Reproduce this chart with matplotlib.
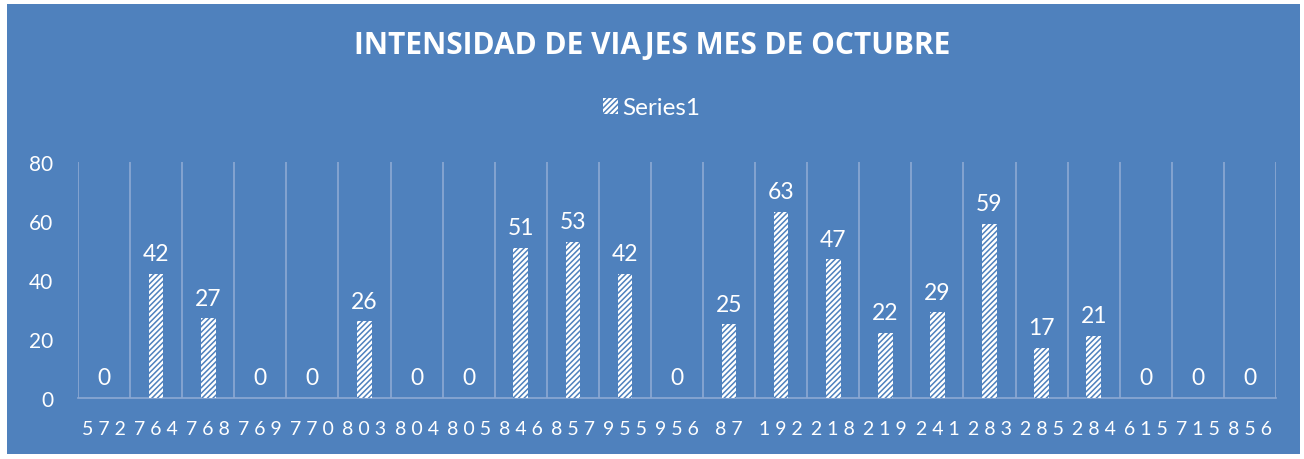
import numpy as np
from matplotlib import pyplot as plt
from matplotlib.patches import Patch

plt.rcParams['font.family'] = ['Lato', 'DejaVu Sans']
plt.rcParams['hatch.linewidth'] = 1.1

# datos del grafico
routes = ['572', '764', '768', '769', '770', '803', '804', '805', '846', '857', '955',
          '956', '87', '192', '218', '219', '241', '283', '285', '284', '615', '715', '856']
trips = [0, 42, 27, 0, 0, 26, 0, 0, 51, 53, 42, 0, 25, 63, 47, 22, 29, 59, 17, 21, 0, 0, 0]
yticks = [0, 20, 40, 60, 80]

BLUE = '#4F81BD'
GRID = '#8DA9D3'

fig = plt.figure(figsize=(13.04, 4.6), dpi=100)
fig.patch.set_facecolor('white')
# fondo azul del area del grafico (con margen blanco)
fig.patches.append(plt.Rectangle((7/1304, 5/460), 1293/1304, 450/460,
                                 transform=fig.transFigure, facecolor=BLUE,
                                 edgecolor='none', zorder=-1))

ax = fig.add_axes([78/1304, 1-399/460, 1198/1304, 236/460])
ax.set_facecolor('none')

x = np.arange(len(routes))
bars = ax.bar(x, trips, width=0.28, facecolor='white', edgecolor=BLUE,
              hatch='//////', linewidth=0, zorder=3)

for xi, v in zip(x, trips):
    ax.annotate(str(v), (xi, v), xytext=(0, 7), textcoords='offset points',
                ha='center', va='bottom', color='white', fontsize=16.5)

ax.set_xlim(-0.5, len(routes) - 0.5)
ax.set_ylim(0, 80)
ax.set_yticks(yticks)
ax.set_yticklabels([str(t) for t in yticks])

# lineas verticales entre categorias
for b in np.arange(-0.5, len(routes), 1.0):
    ax.axvline(b, color=GRID, lw=1.2, zorder=1)

ax.set_xticks(x)
ax.set_xticklabels([' '.join(r) for r in routes])
ax.tick_params(axis='both', length=0, colors='white', labelsize=15)
ax.tick_params(axis='x', pad=16, labelsize=14)
ax.tick_params(axis='y', pad=18)
for s in ['top', 'right', 'left']:
    ax.spines[s].set_visible(False)
ax.spines['bottom'].set_color(GRID)
ax.spines['bottom'].set_linewidth(1.2)

fig.text(0.5, 1-46/460, 'INTENSIDAD DE VIAJES MES DE OCTUBRE', ha='center', va='center',
         color='white', fontsize=21.5, fontweight='bold', family=['Open Sans', 'DejaVu Sans'])

handle = Patch(facecolor='white', edgecolor=BLUE, hatch='//////', linewidth=0)
fig.legend([handle], ['Series1'], loc='center', bbox_to_anchor=(0.5, 1-109/460),
           frameon=False, labelcolor='white', fontsize=17.5, handlelength=0.6,
           handleheight=0.6, handletextpad=0.2)

fig.savefig('out.png', dpi=100, facecolor=fig.get_facecolor())
